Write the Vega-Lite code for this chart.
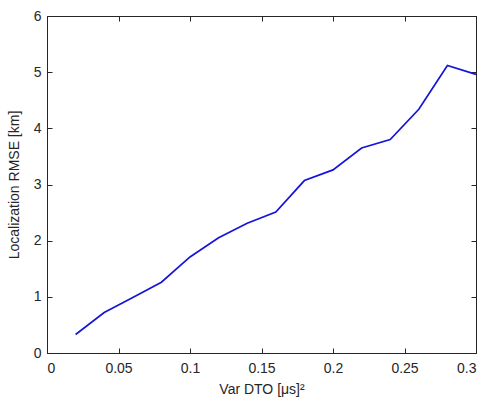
{
  "$schema": "https://vega.github.io/schema/vega-lite/v6.json",
  "autosize": {"type": "none"},
  "padding": {"left": 47, "top": 16, "right": 11, "bottom": 47},
  "width": 429,
  "height": 337,
  "background": "white",
  "config": {
    "view": {"stroke": "#262626", "strokeWidth": 1},
    "font": "Liberation Sans",
    "axis": {
      "labelFont": "Liberation Sans",
      "titleFont": "Liberation Sans",
      "labelFontSize": 14,
      "titleFontSize": 14,
      "titleFontWeight": "normal",
      "labelColor": "#262626",
      "titleColor": "#262626",
      "domainColor": "#262626",
      "tickColor": "#262626",
      "grid": false,
      "tickSize": -5
    }
  },
  "data": {
    "values": [
      {"var": 0.02, "rmse": 0.33},
      {"var": 0.04, "rmse": 0.72},
      {"var": 0.06, "rmse": 0.99},
      {"var": 0.08, "rmse": 1.26},
      {"var": 0.10, "rmse": 1.71},
      {"var": 0.12, "rmse": 2.05},
      {"var": 0.14, "rmse": 2.31},
      {"var": 0.16, "rmse": 2.51},
      {"var": 0.18, "rmse": 3.07},
      {"var": 0.20, "rmse": 3.26},
      {"var": 0.22, "rmse": 3.65},
      {"var": 0.24, "rmse": 3.80},
      {"var": 0.26, "rmse": 4.34},
      {"var": 0.28, "rmse": 5.12},
      {"var": 0.30, "rmse": 4.96}
    ]
  },
  "layer": [
    {
      "mark": {"type": "line", "color": "#1515d8", "strokeWidth": 1.7},
      "encoding": {
        "x": {
          "field": "var", "type": "quantitative",
          "scale": {"domain": [0, 0.3], "nice": false, "zero": false},
          "axis": {"values": [0, 0.05, 0.1, 0.15, 0.2, 0.25, 0.3], "format": "~g", "labelPadding": 13, "title": "Var DTO [μs]²", "titlePadding": 7}
        },
        "y": {
          "field": "rmse", "type": "quantitative",
          "scale": {"domain": [0, 6], "nice": false},
          "axis": {"values": [0, 1, 2, 3, 4, 5, 6], "labelPadding": 11, "title": "Localization RMSE [km]", "titlePadding": 12}
        }
      }
    },
    {
      "mark": {"type": "line", "opacity": 0},
      "encoding": {
        "x": {
          "field": "var", "type": "quantitative",
          "scale": {"domain": [0, 0.3], "nice": false, "zero": false},
          "axis": {"orient": "top", "values": [0, 0.05, 0.1, 0.15, 0.2, 0.25, 0.3], "labels": false, "title": null}
        },
        "y": {
          "field": "rmse", "type": "quantitative",
          "scale": {"domain": [0, 6], "nice": false},
          "axis": {"orient": "right", "values": [0, 1, 2, 3, 4, 5, 6], "labels": false, "title": null}
        }
      }
    }
  ],
  "resolve": {"axis": {"x": "independent", "y": "independent"}}
}
